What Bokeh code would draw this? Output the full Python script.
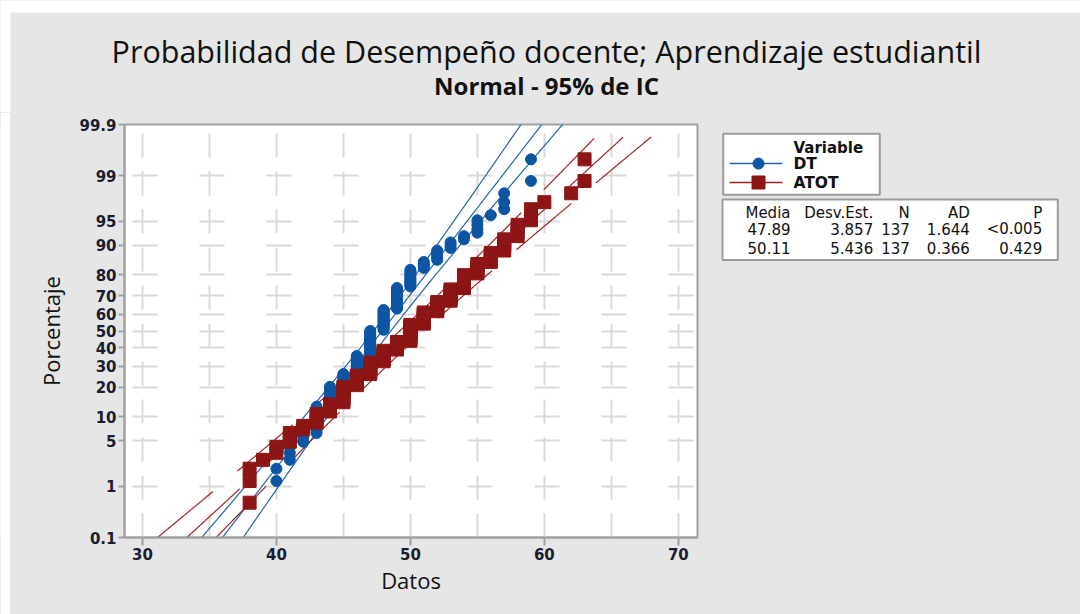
import numpy as np
from statistics import NormalDist
from bokeh.plotting import figure
from bokeh.layouts import column, row
from bokeh.models import FixedTicker, Range1d
from bokeh.core.properties import value
from bokeh.embed import file_html
from bokeh.resources import INLINE

# ---------------- data ----------------
title_text = "Probabilidad de Desempeño docente; Aprendizaje estudiantil"
subtitle_text = "Normal - 95% de IC"
x_label = "Datos"
y_label = "Porcentaje"

dt_values = [38, 40, 41, 42, 43, 44, 45, 46, 47, 48, 49, 50, 51, 52, 53, 54, 55, 56, 57, 59]
dt_counts = [1, 2, 3, 2, 10, 10, 8, 13, 20, 17, 16, 11, 4, 5, 3, 2, 4, 1, 3, 2]

atot_values = [38, 39, 40, 41, 42, 43, 44, 45, 46, 47, 48, 49, 50, 51, 52, 53, 54, 55, 56, 57, 58, 59, 60, 62, 63]
atot_counts = [3, 1, 2, 3, 2, 4, 4, 9, 7, 9, 9, 7, 14, 10, 8, 9, 9, 6, 5, 5, 4, 3, 1, 1, 2]

legend_title = "Variable"
series_names = ["DT", "ATOT"]
stat_headers = ["Media", "Desv.Est.", "N", "AD", "P"]
dt_stats = ["47.89", "3.857", "137", "1.644", "<0.005"]
atot_stats = ["50.11", "5.436", "137", "0.366", "0.429"]
dt_mean, dt_sd, dt_n = 47.89, 3.857, 137
atot_mean, atot_sd, atot_n = 50.11, 5.436, 137

pct_ticks = [0.1, 1, 5, 10, 20, 30, 40, 50, 60, 70, 80, 90, 95, 99, 99.9]
pct_labels = ["0.1", "1", "5", "10", "20", "30", "40", "50", "60", "70", "80", "90", "95", "99", "99.9"]
x_ticks = [30, 40, 50, 60, 70]
x_grid_ticks = [30, 35, 40, 45, 50, 55, 60, 65, 70]

# ---------------- styling ----------------
BLUE = "#0b55a3"
BLUE_LINE = "#2364b0"
RED = "#8e1515"
RED_LINE = "#a52222"
FONT = "Open Sans"
FONT2 = "DejaVu Sans"
BG = "#e6e6e6"
TXT = "#111111"

nd = NormalDist()


def plotting_positions(values, counts):
    data = np.sort(np.repeat(np.array(values, float), counts))
    n = len(data)
    ranks = np.arange(1, n + 1)
    p = (ranks - 0.3) / (n + 0.4)
    z = np.array([nd.inv_cdf(v) for v in p])
    return data, z


z_lo = nd.inv_cdf(pct_ticks[0] / 100)
z_hi = nd.inv_cdf(pct_ticks[-1] / 100)
z_ticks = [nd.inv_cdf(v / 100) for v in pct_ticks]


def ci_lines(mean, sd, n):
    z = np.linspace(z_lo, z_hi, 300)
    fit = mean + z * sd
    half = 1.96 * sd * np.sqrt(1.0 / n + z ** 2 / (2.0 * n))
    return z, fit, fit - half, fit + half


# ---------------- layout geometry (canvas pixels) ----------------
TOTAL_W, TOTAL_H = 1080, 614
TOP_H = 112           # title band
LEFT_PAD = 10         # white strip left of the grey panel
MAIN_W = 700          # main figure width (from x=10 to 710)
SIDE_W = TOTAL_W - LEFT_PAD - MAIN_W
BODY_H = TOTAL_H - TOP_H
FRAME_L, FRAME_R, FRAME_T, FRAME_B = 124, 697, 124, 537

# ---------------- title figure ----------------
top = figure(width=TOTAL_W, height=TOP_H, output_backend="svg", toolbar_location=None,
             x_range=Range1d(0, TOTAL_W), y_range=Range1d(TOP_H, 0),
             x_axis_type=None, y_axis_type=None, min_border=0,
             background_fill_color="white", border_fill_color="white", outline_line_color=None)
top.grid.visible = False
top.quad(left=[LEFT_PAD], right=[TOTAL_W + 2], top=[12], bottom=[TOP_H + 2], fill_color=BG, line_color=None)
top.text(x=[546], y=[50], text=[title_text], text_align="center", text_baseline="middle",
         text_font=value(FONT), text_font_size=value("30.5px"), text_color=TXT)
top.text(x=[546], y=[85], text=[subtitle_text], text_align="center", text_baseline="middle",
         text_font=value(FONT), text_font_size=value("24px"), text_font_style="bold", text_color=TXT)

# ---------------- white strip on the left ----------------
strip = figure(width=LEFT_PAD, height=BODY_H, output_backend="svg", toolbar_location=None,
               x_range=Range1d(0, 1), y_range=Range1d(0, 1), x_axis_type=None, y_axis_type=None,
               min_border=0, background_fill_color="white", border_fill_color="white",
               outline_line_color=None)
strip.grid.visible = False
strip.quad(left=[0], right=[1], top=[1], bottom=[0], fill_color="white", line_color=None)

# ---------------- main probability plot ----------------
x0, x1 = 28.66, 71.43
p = figure(width=MAIN_W, height=BODY_H, output_backend="svg", toolbar_location=None,
           x_range=Range1d(x0, x1), y_range=Range1d(z_lo, z_hi),
           min_border_left=FRAME_L - LEFT_PAD, min_border_right=LEFT_PAD + MAIN_W - FRAME_R,
           min_border_top=FRAME_T - TOP_H, min_border_bottom=TOTAL_H - FRAME_B,
           background_fill_color="white", border_fill_color=BG)

p.xgrid.ticker = FixedTicker(ticks=x_grid_ticks)
p.ygrid.ticker = FixedTicker(ticks=z_ticks)
for g in (p.xgrid[0], p.ygrid[0]):
    g.grid_line_color = "#d9d9d9"
    g.grid_line_width = 2
p.ygrid.grid_line_dash = "25 42"
p.ygrid.grid_line_dash_offset = 59
p.xgrid.grid_line_dash = "24 14"

p.xaxis.ticker = FixedTicker(ticks=x_ticks)
p.yaxis.ticker = FixedTicker(ticks=z_ticks)
p.yaxis.major_label_overrides = {z: lab for z, lab in zip(z_ticks, pct_labels)}
for ax in (p.xaxis[0], p.yaxis[0]):
    ax.axis_line_color = "#a0a0a0"
    ax.axis_line_width = 2
    ax.major_tick_line_color = "#a0a0a0"
    ax.major_tick_line_width = 2
    ax.major_tick_in = 0
    ax.minor_tick_line_color = None
    ax.major_label_text_font = FONT2
    ax.major_label_text_font_size = "15px"
    ax.major_label_text_font_style = "bold"
    ax.major_label_text_color = "#1c1c30"
    ax.axis_label_text_font = FONT
    ax.axis_label_text_font_size = "22px"
    ax.axis_label_text_font_style = "normal"
    ax.axis_label_text_color = TXT
p.xaxis.major_tick_out = 8
p.yaxis.major_tick_out = 6
p.xaxis.major_label_standoff = 2
p.yaxis.major_label_standoff = 2
p.xaxis.axis_label = x_label
p.yaxis.axis_label = y_label
p.xaxis.axis_label_standoff = 2
p.yaxis.axis_label_standoff = 10
p.outline_line_color = "#a0a0a0"
p.outline_line_width = 2

for mean, sd, n, col, dash in ((dt_mean, dt_sd, dt_n, BLUE_LINE, "solid"),
                               (atot_mean, atot_sd, atot_n, RED_LINE, "72 32")):
    z, fit, lo, hi = ci_lines(mean, sd, n)
    for xs in (fit, lo, hi):
        p.line(xs, z, line_color=col, line_width=1.2, line_dash=dash)

dx_dt, dz_dt = plotting_positions(dt_values, dt_counts)
dx_at, dz_at = plotting_positions(atot_values, atot_counts)
p.scatter(dx_dt, dz_dt, marker="circle", size=11, fill_color=BLUE, line_color=BLUE)
p.scatter(dx_at, dz_at, marker="square", size=13, fill_color=RED, line_color=RED)

# ---------------- side panel: legend + statistics table ----------------
SX0, SY0 = LEFT_PAD + MAIN_W, TOP_H
side = figure(width=SIDE_W, height=BODY_H, output_backend="svg", toolbar_location=None,
              x_range=Range1d(SX0, SX0 + SIDE_W), y_range=Range1d(SY0 + BODY_H, SY0),
              x_axis_type=None, y_axis_type=None, min_border=0,
              background_fill_color=BG, border_fill_color=BG, outline_line_color=None)
side.grid.visible = False

# boxes (left, right, top, bottom) in canvas pixels
side.quad(left=[722.7, 722], right=[879.3, 1057.3], top=[123.3, 203.3], bottom=[197.3, 276.7],
          fill_color="white", line_color="#9b9b9b", line_width=2)

side.text(x=[793], y=[140], text=[legend_title], text_align="left", text_baseline="middle",
          text_font=value(FONT2), text_font_size=value("15px"), text_font_style="bold", text_color=TXT)
leg_y = [159.5, 182.5]
side.text(x=[793, 793], y=leg_y, text=series_names, text_align="left", text_baseline="middle",
          text_font=value(FONT2), text_font_size=value("15.5px"), text_font_style="bold", text_color=TXT)
side.line([729, 782], [leg_y[0], leg_y[0]], line_color=BLUE_LINE, line_width=1.5)
side.line([729, 782], [leg_y[1], leg_y[1]], line_color=RED_LINE, line_width=1.5)
side.scatter([758], [leg_y[0]], marker="circle", size=11, fill_color=BLUE, line_color=BLUE)
side.scatter([758], [leg_y[1]], marker="square", size=13, fill_color=RED, line_color=RED)

col_right = [790, 872.7, 909.3, 969.3, 1041.7]
for texts, yy in ((stat_headers, 219), (dt_stats, 239), (atot_stats, 262.5)):
    side.text(x=col_right, y=[yy] * len(texts), text=texts, text_align="right", text_baseline="middle",
              text_font=value(FONT2), text_font_size=value("15px"), text_color=TXT)

body = row(strip, p, side, styles={"background-color": BG})
layout = column(top, body, styles={"background-color": BG})
open("out.html", "w").write(file_html(layout, INLINE))
